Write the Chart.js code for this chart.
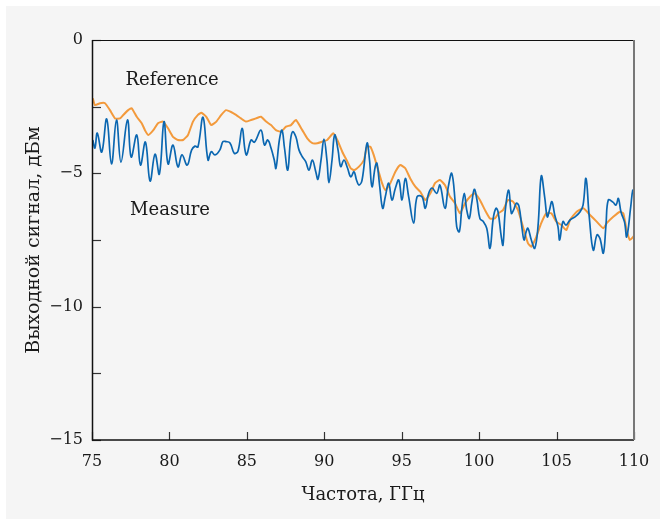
<!DOCTYPE html>
<html>
<head>
<meta charset="utf-8">
<script src="https://cdn.jsdelivr.net/npm/chart.js@4/dist/chart.umd.min.js"></script>
<style>
  html, body { margin: 0; padding: 0; background: #ffffff; }
  #wrap { position: relative; width: 666px; height: 525px; }
  #bg { position: absolute; left: 6px; top: 6px; width: 654px; height: 513px; background: #f5f5f5; }
  #c { position: absolute; left: 0; top: 0; }
</style>
</head>
<body>
<div id="wrap"><div id="bg"></div><canvas id="c" width="666" height="525"></canvas></div>
<script>
// ---- data ----
const measureFreq = [75.05,75.19,75.34,75.63,75.95,76.26,76.58,76.87,77.29,77.53,77.89,78.13,78.45,78.75,79.07,79.35,79.65,79.91,80.23,80.55,80.81,81.15,81.43,81.65,81.84,82.17,82.49,82.70,82.94,83.25,83.46,83.65,83.91,84.19,84.43,84.69,84.88,84.99,85.27,85.49,85.91,86.14,86.35,86.56,86.77,86.88,87.10,87.27,87.43,87.64,87.82,87.96,88.17,88.37,88.58,88.80,89.01,89.23,89.45,89.59,89.79,89.98,90.17,90.30,90.50,90.67,90.89,91.06,91.27,91.50,91.71,91.92,92.08,92.24,92.44,92.76,92.92,93.08,93.29,93.40,93.57,93.77,93.94,94.16,94.37,94.59,94.81,95.02,95.23,95.45,95.77,95.99,96.31,96.52,96.74,96.96,97.26,97.47,97.79,98.01,98.23,98.44,98.55,98.72,98.87,99.04,99.20,99.36,99.52,99.69,99.86,100.05,100.27,100.49,100.70,100.91,101.09,101.22,101.43,101.54,101.69,101.91,102.08,102.22,102.40,102.57,102.77,102.90,103.03,103.15,103.37,103.59,103.80,104.01,104.23,104.40,104.54,104.70,104.88,105.09,105.20,105.41,105.61,105.87,106.19,106.51,106.71,106.90,107.11,107.37,107.61,107.80,108.02,108.19,108.34,108.64,108.84,108.99,109.16,109.39,109.53,109.79,109.92,110.00];
const measureDbm = [-3.75,-4.05,-3.49,-4.20,-2.96,-4.65,-3.00,-4.58,-3.00,-4.39,-3.56,-4.69,-3.83,-5.29,-4.28,-5.03,-3.06,-4.65,-3.94,-4.76,-4.31,-4.69,-4.13,-3.98,-4.01,-2.90,-4.50,-4.19,-4.31,-4.13,-3.81,-3.81,-3.86,-4.25,-4.16,-3.31,-4.13,-4.31,-3.75,-3.83,-3.38,-3.94,-3.75,-4.05,-4.50,-4.81,-3.75,-3.38,-4.05,-4.88,-3.75,-3.44,-3.64,-4.13,-4.38,-4.56,-4.88,-4.50,-4.94,-5.22,-4.50,-3.72,-4.50,-5.35,-4.50,-3.56,-4.13,-4.75,-4.50,-4.80,-5.13,-4.94,-5.25,-5.44,-5.25,-3.87,-4.50,-5.50,-4.75,-4.62,-5.44,-6.31,-5.88,-5.37,-6.00,-5.56,-5.25,-6.00,-5.19,-5.88,-6.87,-5.88,-5.88,-6.31,-5.75,-5.55,-5.75,-5.44,-6.31,-5.50,-5.00,-6.00,-7.00,-7.19,-6.38,-5.75,-6.38,-6.69,-6.12,-5.60,-6.00,-6.69,-6.81,-7.06,-7.81,-6.69,-6.31,-6.44,-7.38,-7.69,-6.38,-5.63,-6.50,-6.38,-6.12,-6.23,-7.06,-7.50,-7.20,-7.06,-7.50,-7.81,-7.00,-5.10,-5.88,-6.63,-6.38,-6.06,-6.56,-7.00,-7.50,-6.81,-6.94,-6.75,-6.63,-6.45,-6.19,-5.19,-6.63,-7.88,-7.31,-7.44,-7.99,-6.94,-6.00,-6.08,-6.19,-5.94,-6.45,-6.83,-7.38,-6.25,-5.63,-5.70];
const referenceFreq = [75.05,75.19,75.52,75.84,76.16,76.49,76.81,77.02,77.34,77.56,77.89,78.21,78.42,78.64,78.96,79.26,79.58,79.91,80.23,80.55,80.88,81.20,81.52,81.84,82.06,82.38,82.70,83.03,83.35,83.65,83.98,84.30,84.62,84.94,85.27,85.59,85.91,86.24,86.56,86.88,87.20,87.53,87.85,88.17,88.58,88.90,89.23,89.55,89.87,90.19,90.58,90.84,91.16,91.49,91.71,91.92,92.24,92.56,92.76,92.97,93.19,93.51,93.73,93.94,94.26,94.59,94.91,95.23,95.55,95.88,96.20,96.52,96.85,97.15,97.47,97.79,98.12,98.44,98.76,99.09,99.41,99.73,100.05,100.38,100.70,101.02,101.24,101.54,101.86,102.19,102.51,102.83,103.15,103.37,103.69,104.01,104.34,104.66,104.98,105.31,105.63,105.87,106.30,106.73,107.16,107.59,108.02,108.24,108.66,109.09,109.31,109.53,109.74,110.00];
const referenceDbm = [-2.19,-2.44,-2.37,-2.37,-2.63,-2.94,-2.94,-2.81,-2.63,-2.56,-2.88,-3.12,-3.38,-3.56,-3.38,-3.12,-3.06,-3.31,-3.63,-3.75,-3.75,-3.56,-3.06,-2.81,-2.73,-2.88,-3.19,-3.06,-2.81,-2.63,-2.70,-2.81,-2.94,-3.06,-3.00,-2.94,-2.88,-3.06,-3.19,-3.38,-3.44,-3.25,-3.19,-3.00,-3.38,-3.69,-3.87,-3.87,-3.81,-3.75,-3.50,-3.75,-4.19,-4.56,-4.81,-4.88,-4.75,-4.50,-4.00,-4.00,-4.31,-4.94,-5.37,-5.63,-5.37,-4.94,-4.69,-4.81,-5.19,-5.50,-5.69,-6.00,-5.75,-5.37,-5.25,-5.44,-5.88,-6.12,-6.50,-6.12,-5.88,-5.75,-6.00,-6.38,-6.69,-6.69,-6.50,-6.38,-6.00,-6.06,-6.38,-7.00,-7.62,-7.75,-7.38,-6.87,-6.50,-6.50,-6.81,-6.94,-7.13,-6.75,-6.44,-6.31,-6.56,-6.81,-7.06,-6.87,-6.63,-6.44,-6.50,-7.13,-7.50,-7.35];
const xTickValues = [75,80,85,90,95,100,105,110];
const yTickLabelValues = [0,-5,-10,-15];
const seriesLabels = [
  {text: 'Reference', x: 80.17, y: -1.5},
  {text: 'Measure', x: 80.04, y: -6.38}
];
const xTitle = 'Частота, ГГц';
const yTitle = 'Выходной сигнал, дБм';

const FONT = '"DejaVu Serif", serif';
const toPts = (xs, ys) => xs.map((x, i) => ({x: x, y: ys[i]}));

const framePlugin = {
  id: 'frame',
  afterDatasetsDraw(chart) {
    const {ctx, chartArea: a, scales} = chart;
    ctx.save();
    // inward ticks
    ctx.strokeStyle = '#333';
    ctx.lineWidth = 1.2;
    scales.y.ticks.forEach(t => {
      const py = Math.round(scales.y.getPixelForValue(t.value)) + 0.5;
      ctx.beginPath(); ctx.moveTo(a.left, py); ctx.lineTo(a.left + 9, py); ctx.stroke();
    });
    scales.x.ticks.forEach(t => {
      const px = Math.round(scales.x.getPixelForValue(t.value)) + 0.5;
      ctx.beginPath(); ctx.moveTo(px, a.bottom); ctx.lineTo(px, a.bottom - 8); ctx.stroke();
    });
    // frame
    ctx.strokeStyle = '#111';
    ctx.lineWidth = 1;
    ctx.beginPath(); ctx.moveTo(a.left, a.top + 0.5); ctx.lineTo(a.right, a.top + 0.5); ctx.stroke();
    ctx.lineWidth = 1.5;
    ctx.beginPath(); ctx.moveTo(a.left + 0.5, a.top); ctx.lineTo(a.left + 0.5, a.bottom); ctx.lineTo(a.right, a.bottom); ctx.stroke();
    ctx.strokeStyle = '#777';
    ctx.lineWidth = 2;
    ctx.beginPath(); ctx.moveTo(a.right, a.top); ctx.lineTo(a.right, a.bottom); ctx.stroke();
    // series labels
    ctx.fillStyle = '#1a1a1a';
    ctx.font = '18px ' + FONT;
    ctx.textAlign = 'center';
    ctx.textBaseline = 'middle';
    seriesLabels.forEach(l => {
      ctx.fillText(l.text, scales.x.getPixelForValue(l.x), scales.y.getPixelForValue(l.y));
    });
    ctx.restore();
  }
};

new Chart(document.getElementById('c'), {
  type: 'line',
  data: {
    datasets: [
      {
        label: 'Measure',
        data: toPts(measureFreq, measureDbm),
        borderColor: '#0b67b1',
        borderWidth: 1.7,
        pointRadius: 0,
        tension: 0.4,
        fill: false
      },
      {
        label: 'Reference',
        data: toPts(referenceFreq, referenceDbm),
        borderColor: '#f39a3c',
        borderWidth: 2,
        pointRadius: 0,
        tension: 0.15,
        fill: false
      }
    ]
  },
  options: {
    responsive: false,
    animation: false,
    devicePixelRatio: 1,
    layout: { padding: { left: 0, right: 32, top: 40, bottom: 0 } },
    plugins: { legend: { display: false }, tooltip: { enabled: false } },
    scales: {
      x: {
        type: 'linear',
        min: 75, max: 110,
        afterFit(s) { s.height = 85; },
        afterBuildTicks(s) { s.ticks = xTickValues.map(v => ({value: v})); },
        grid: { display: false, drawTicks: false },
        border: { display: false },
        ticks: {
          padding: 12,
          color: '#1a1a1a',
          font: { family: FONT, size: 16 },
          maxRotation: 0,
          callback: v => String(v)
        },
        title: {
          display: true,
          text: xTitle,
          color: '#1a1a1a',
          font: { family: FONT, size: 18 },
          padding: { top: 0, bottom: 19 }
        }
      },
      y: {
        type: 'linear',
        min: -15, max: 0,
        afterFit(s) { s.width = 92; },
        grid: { display: false, drawTicks: false },
        border: { display: false },
        ticks: {
          stepSize: 2.5,
          padding: 9,
          color: '#1a1a1a',
          font: { family: FONT, size: 16 },
          callback: v => (yTickLabelValues.includes(v) ? (v < 0 ? '\u2212' + Math.abs(v) : String(v)) : '')
        },
        title: {
          display: true,
          text: yTitle,
          color: '#1a1a1a',
          font: { family: FONT, size: 19 },
          padding: { top: 23, bottom: 0 }
        }
      }
    }
  },
  plugins: [framePlugin]
});
</script>
</body>
</html>
